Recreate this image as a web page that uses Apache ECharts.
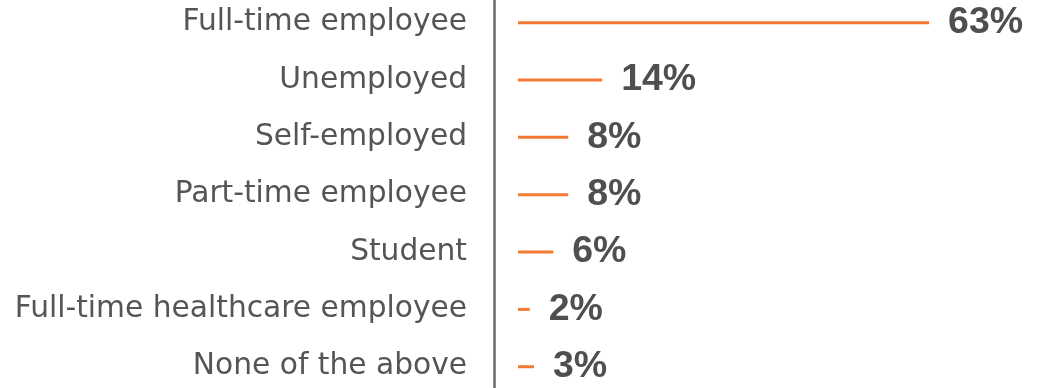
<!DOCTYPE html>
<html>
<head>
<meta charset="utf-8">
<script src="https://cdn.jsdelivr.net/npm/echarts@6/dist/echarts.min.js"></script>
<style>html,body{margin:0;padding:0;background:#fff;}#c{width:1047px;height:388px;}</style>
</head>
<body>
<div id="c"></div>
<script>
const categories = ["Full-time employee","Unemployed","Self-employed","Part-time employee","Student","Full-time healthcare employee","None of the above"];
const barValues = [63, 12.9, 7.7, 7.7, 5.4, 1.8, 2.45];
const valueLabels = ["63%","14%","8%","8%","6%","2%","3%"];

const chart = echarts.init(document.getElementById('c'));
chart.setOption({
  animation: false,
  grid: { left: 518, width: 456.7, top: -6, height: 401.4, outerBoundsMode: 'none', containLabel: false },
  xAxis: { type: 'value', min: 0, max: 70, show: false },
  yAxis: {
    type: 'category', data: categories, inverse: true, offset: 24,
    axisLine: { show: true, onZero: false, lineStyle: { color: '#66696b', width: 2.5 } },
    axisTick: { show: false },
    splitLine: { show: false },
    axisLabel: { margin: 27, color: '#555555', fontSize: 29.7, fontFamily: 'DejaVu Sans' }
  },
  series: [{
    type: 'bar', data: barValues, barWidth: 3,
    itemStyle: { color: '#f37a35' },
    label: {
      show: true, position: 'right', distance: 19,
      formatter: p => valueLabels[p.dataIndex],
      color: '#4f4f4f', fontSize: 37.5, fontWeight: 'bold', fontFamily: 'Liberation Sans'
    }
  }]
});
</script>
</body>
</html>
